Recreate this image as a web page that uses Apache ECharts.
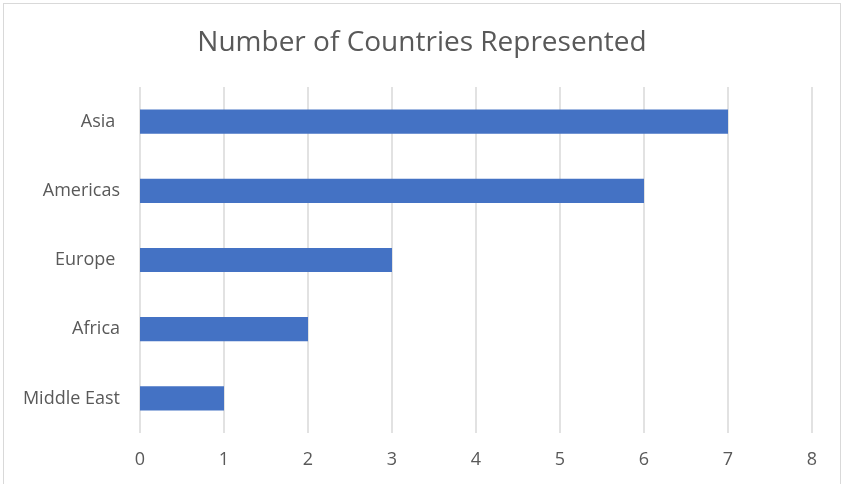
<!DOCTYPE html>
<html>
<head>
<meta charset="utf-8">
<script src="https://cdn.jsdelivr.net/npm/echarts@6/dist/echarts.min.js"></script>
<style>
  html, body { margin: 0; padding: 0; background: #fff; }
  #frame { position: absolute; left: 3px; top: 3px; width: 838px; height: 490px; border: 1px solid #d9d9d9; box-sizing: border-box; }
  #chart { position: absolute; left: 0; top: 0; width: 844px; height: 484px; }
</style>
</head>
<body>
<div id="frame"></div>
<div id="chart"></div>
<script>
// data
var regions = ['Middle East', 'Africa', 'Europe ', 'Americas', 'Asia '];
var countries = [1, 2, 3, 6, 7];
var xTicks = [0, 1, 2, 3, 4, 5, 6, 7, 8];

var chartDom = document.getElementById('chart');
var myChart = echarts.init(chartDom);
var option;

option = {
    animation: false,
    title: {
        text: 'Number of Countries Represented',
        left: 'center',
        top: 24,
        textStyle: {
            fontFamily: 'Open Sans',
            fontSize: 28,
            fontWeight: 'normal',
            color: '#595959'
        }
    },
    grid: {
        left: 140,
        right: 32,
        top: 87,
        bottom: 51,
        containLabel: false
    },
    xAxis: {
        type: 'value',
        min: xTicks[0],
        max: xTicks[xTicks.length - 1],
        interval: 1,
        axisLine: { show: false },
        axisTick: { show: false },
        splitLine: { lineStyle: { color: '#d9d9d9', width: 1.5 } },
        axisLabel: {
            margin: 18,
            fontFamily: 'Open Sans',
            fontSize: 18,
            color: '#595959'
        }
    },
    yAxis: {
        type: 'category',
        data: regions,
        axisLine: { show: false },
        axisTick: { show: false },
        axisLabel: {
            margin: 20,
            fontFamily: 'Open Sans',
            fontSize: 18,
            color: '#595959'
        }
    },
    series: [
        {
            type: 'bar',
            data: countries,
            barWidth: '35%',
            itemStyle: { color: '#4472c4' }
        }
    ]
};

option && myChart.setOption(option);
</script>
</body>
</html>
